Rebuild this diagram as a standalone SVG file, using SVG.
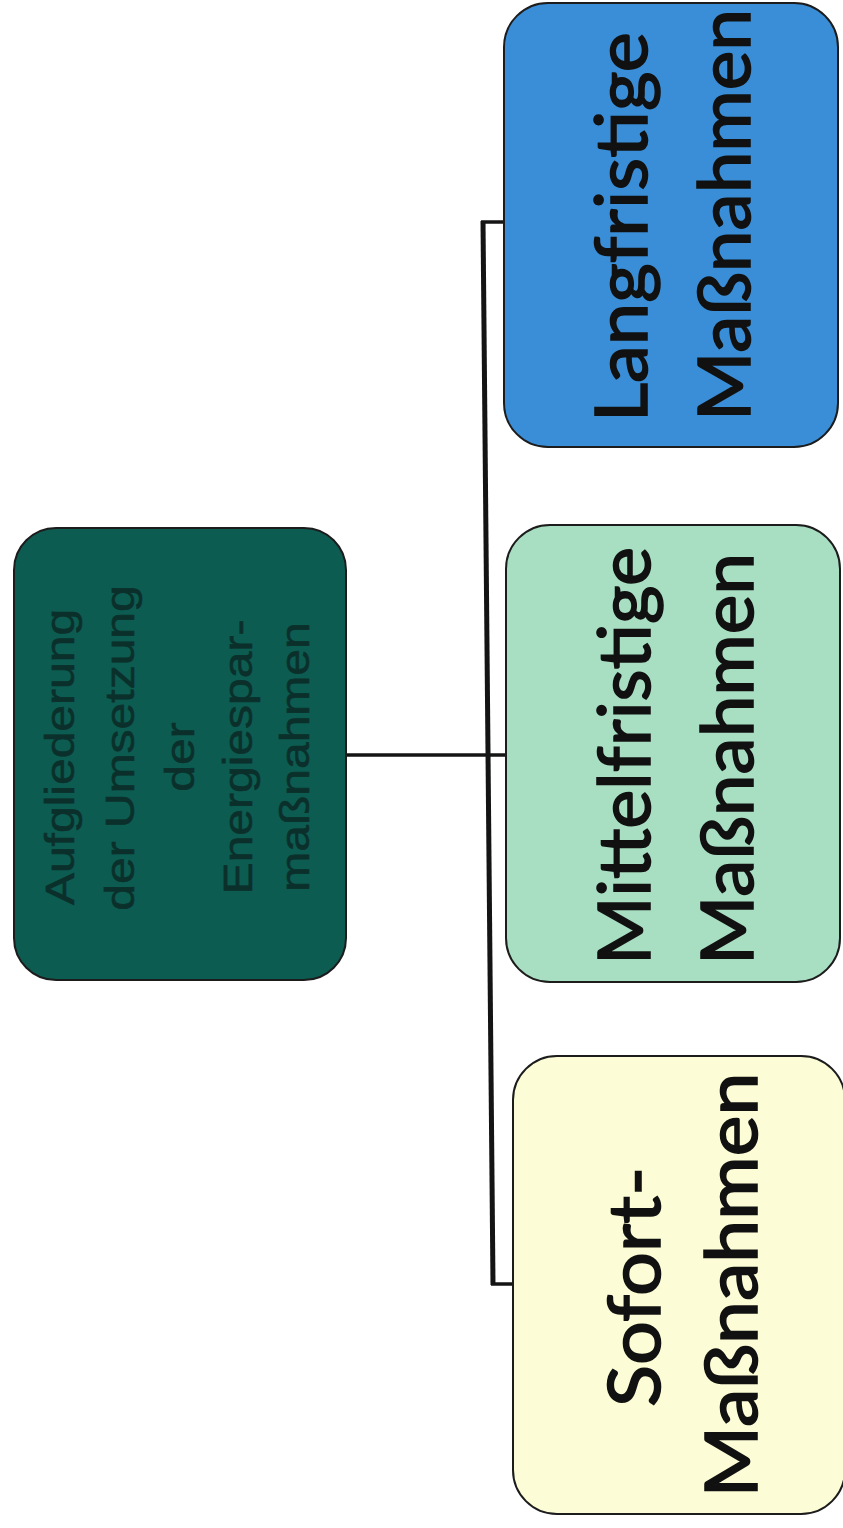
<svg xmlns="http://www.w3.org/2000/svg" width="843" height="1528" viewBox="0 0 843 1528">
<style>
.box{stroke:#1c1c1c;stroke-width:2}
.big{font-family:Lato,"Liberation Sans",sans-serif;font-size:72px;fill:#111;stroke:#111;stroke-width:1.6;text-anchor:middle}
.root{font-family:"Liberation Sans",Arial,sans-serif;font-size:40px;fill:#0b302b;stroke:#0b302b;stroke-width:0.6;text-anchor:middle}
.conn{stroke:#141414;fill:none;stroke-linejoin:miter}
</style>
<rect width="843" height="1528" fill="#ffffff"/>
<g id="connectors">
<path class="conn" d="M483,221 L493,1285" stroke-width="5"/>
<path class="conn" d="M481,222 L504,222" stroke-width="3.5"/>
<path class="conn" d="M491,1284 L513,1284" stroke-width="3.5"/>
<path class="conn" d="M346,755 L506,755" stroke-width="3.5"/>
</g>
<g id="root">
<rect class="box" x="14" y="528" width="332" height="452" rx="42" fill="#0d5c52"/>
<text class="root" transform="translate(74,757) rotate(-90) scale(1.2,1)">Aufgliederung</text>
<text class="root" transform="translate(134,748) rotate(-90) scale(1.2,1)">der Umsetzung</text>
<text class="root" transform="translate(194,757) rotate(-90) scale(1.2,1)">der</text>
<text class="root" transform="translate(252,757) rotate(-90) scale(1.2,1)">Energiespar-</text>
<text class="root" transform="translate(309,757) rotate(-90) scale(1.2,1)">maßnahmen</text>
</g>
<g id="langfristig">
<rect class="box" x="504" y="3" width="334" height="444" rx="44" fill="#3a8ed7"/>
<text class="big" transform="translate(647,227) rotate(-90)" textLength="390" lengthAdjust="spacingAndGlyphs">Langfristige</text>
<text class="big" transform="translate(750,215) rotate(-90)" textLength="412" lengthAdjust="spacingAndGlyphs">Maßnahmen</text>
</g>
<g id="mittelfristig">
<rect class="box" x="506" y="525" width="334" height="457" rx="44" fill="#a8dec2"/>
<text class="big" transform="translate(650,756) rotate(-90)" textLength="418" lengthAdjust="spacingAndGlyphs">Mittelfristige</text>
<text class="big" transform="translate(753,759) rotate(-90)" textLength="412" lengthAdjust="spacingAndGlyphs">Maßnahmen</text>
</g>
<g id="sofort">
<rect class="box" x="513" y="1056" width="332" height="458" rx="44" fill="#fcfcd6"/>
<text class="big" transform="translate(660,1287) rotate(-90)" textLength="240" lengthAdjust="spacingAndGlyphs">Sofort-</text>
<text class="big" transform="translate(757,1285) rotate(-90)" textLength="425" lengthAdjust="spacingAndGlyphs">Maßnahmen</text>
</g>
</svg>
